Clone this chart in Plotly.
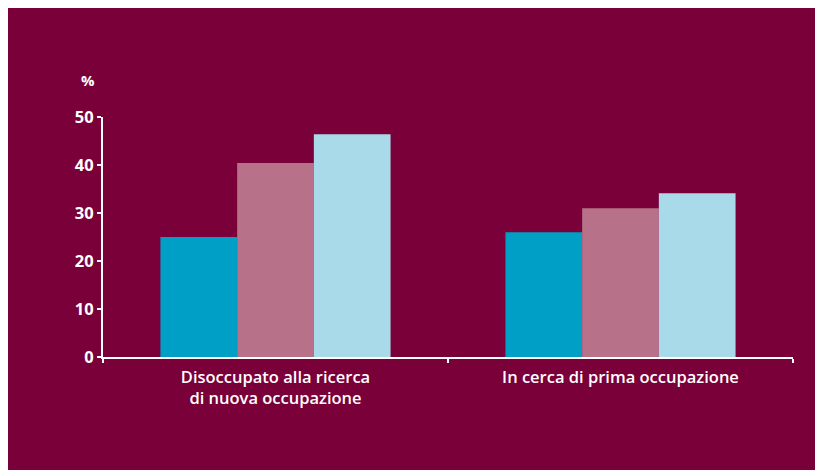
import plotly.graph_objects as go

categories = ["Disoccupato alla ricerca<br>di nuova occupazione", "In cerca di prima occupazione"]
series_names = ["Serie A", "Serie B", "Serie C"]
serie_a = [25, 26]
serie_b = [40.4, 31]
serie_c = [46.4, 34.1]
y_ticks = [0, 10, 20, 30, 40, 50]

colors = ["#00A0C6", "#B77289", "#A9DAE9"]
maroon = "#7A003A"

# page body has an 8px margin, so the figure is placed at (8, 8)
OFF = 8
W, H = 823 - OFF, 470 - OFF
L, R, T, B = 103 - OFF, 30, 117 - OFF, 113
pw, ph = W - L - R, H - T - B

fig = go.Figure()
for name, vals, c in zip(series_names, [serie_a, serie_b, serie_c], colors):
    fig.add_trace(go.Bar(x=categories, y=vals, name=name, marker=dict(color=c, line=dict(width=0)),
                         showlegend=False))

fig.update_layout(
    width=W, height=H,
    margin=dict(l=L, r=R, t=T, b=B),
    paper_bgcolor=maroon,
    plot_bgcolor="rgba(0,0,0,0)",
    barmode="group",
    bargap=0.333,
    bargroupgap=0,
    font=dict(family="Open Sans", color="white", size=15, weight=700),
    xaxis=dict(showline=True, linecolor="white", linewidth=2, ticks="outside", tickson="boundaries",
               ticklen=4, tickwidth=2, tickcolor="white", showgrid=False, zeroline=False,
               ticklabelstandoff=4,
               tickfont=dict(size=16.5, color="white", family="Open Sans", weight=600)),
    yaxis=dict(range=[0, 50], tickvals=y_ticks, showline=True, linecolor="white", linewidth=2,
               ticks="outside", ticklen=4, tickwidth=2, tickcolor="white", showgrid=False,
               zeroline=False, tickfont=dict(size=16.5, color="white", family="Open Sans", weight=700)),
    annotations=[dict(text="%", xref="paper", yref="paper", x=(88 - 103) / pw, y=(357 - 80) / ph,
                      showarrow=False, xanchor="center", yanchor="middle",
                      font=dict(size=15, color="white", family="Open Sans", weight=700))],
)

fig.write_html("out.html")
